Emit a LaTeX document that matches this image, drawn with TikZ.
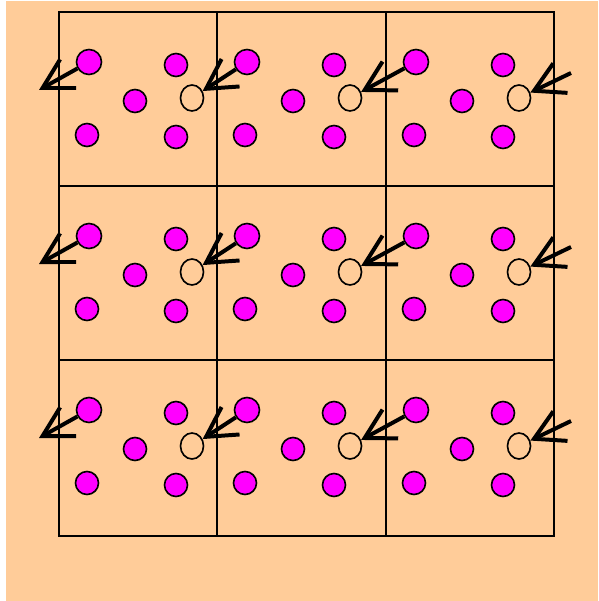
\documentclass[tikz,border=0pt]{standalone}
\usetikzlibrary{arrows.meta,shapes.geometric}
\definecolor{peach}{RGB}{255,204,153}
\definecolor{dotpink}{RGB}{255,0,255}
\begin{document}
\begin{tikzpicture}[
    x=0.03cm, y=-0.03cm,
    atom/.style={circle, draw, fill=dotpink, line width=1.4pt, minimum size=0.69cm, inner sep=0pt},
    big/.style={atom, minimum size=0.75cm},
    vac/.style={ellipse, draw, line width=1.4pt, minimum width=0.69cm, minimum height=0.78cm, inner sep=0pt},
    hop/.style={-{Straight Barb[length=25pt,width=28pt]}, line width=3.4pt},
    cell/.style={line width=1.9pt},
  ]
  % background
  \fill[white] (0,0) rectangle (598,601);
  \fill[peach] (6,1) rectangle (598,601);
  \useasboundingbox (0,0) rectangle (598,601);

  % cell boundaries
  \draw[cell] (59,12) rectangle (554,536);
  \foreach \x in {217,386} \draw[cell] (\x,12) -- (\x,536);
  \foreach \y in {186,360} \draw[cell] (59,\y) -- (554,\y);

  % atoms and vacancies, one set per cell
  \foreach \X [count=\c] in {59,217,386} {
    \foreach \Y [count=\r] in {12,186,360} {
      \node[big] (b\c\r) at (\X+30,\Y+50) {};
      \node[atom] (t\c\r) at (\X+117,\Y+53) {};
      \node[atom] (m\c\r) at (\X+76,\Y+89) {};
      \node[atom] (l\c\r) at (\X+28,\Y+123) {};
      \node[atom] (r\c\r) at (\X+117,\Y+125) {};
      \node[vac] (v\c\r) at (\X+133,\Y+86) {};
    }
  }

  % jumps into the vacancy of the next cell on the left
  \foreach \r/\Y in {1/12,2/186,3/360} {
    \coordinate (in\r) at (39,\Y+78);
    \coordinate (out\r) at (571,\Y+61);
    \draw[hop] (b1\r) -- (in\r);
    \draw[hop] (b2\r) -- (v1\r);
    \draw[hop] (b3\r) -- (v2\r);
    \draw[hop] (out\r) -- (v3\r);
  }
\end{tikzpicture}
\end{document}
